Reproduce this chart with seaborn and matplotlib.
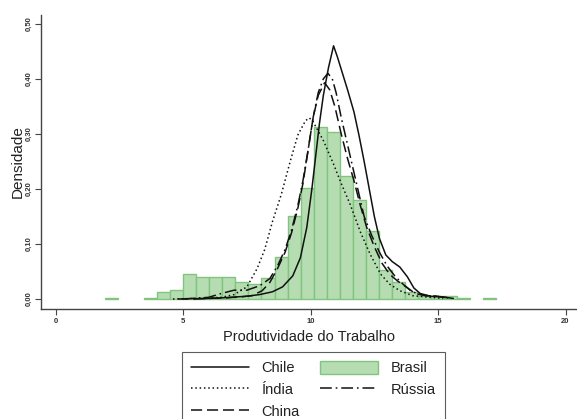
import matplotlib
matplotlib.use("Agg")
import matplotlib.pyplot as plt
import seaborn as sns
import numpy as np

# ---------------- data ----------------
brasil_edges = [1.93, 2.44, 2.95, 3.47, 3.98, 4.49, 5.00, 5.51, 6.03, 6.54, 7.05,
                7.56, 8.07, 8.59, 9.10, 9.61, 10.12, 10.63, 11.14, 11.66, 12.17,
                12.68, 13.19, 13.70, 14.22, 14.73, 15.24, 15.75, 16.26, 16.78, 17.29]
brasil_density = [0.0012, 0.0, 0.0, 0.0025, 0.012, 0.016, 0.045, 0.040, 0.040, 0.040,
                  0.031, 0.028, 0.039, 0.077, 0.151, 0.201, 0.313, 0.303, 0.224, 0.180,
                  0.124, 0.052, 0.030, 0.012, 0.006, 0.006, 0.005, 0.0012, 0.0, 0.0012]

chile_x = [5.4, 6.5, 7.5, 8.0, 8.5, 8.9, 9.3, 9.6, 9.85, 10.05, 10.2, 10.35, 10.5,
           10.7, 10.9, 11.05, 11.25, 11.45, 11.7, 11.9, 12.1, 12.3, 12.5, 12.7,
           12.95, 13.2, 13.5, 13.8, 14.05, 14.3, 14.7, 15.3, 15.6]
chile_y = [0.0, 0.002, 0.005, 0.008, 0.013, 0.022, 0.042, 0.075, 0.13, 0.20, 0.26,
           0.32, 0.37, 0.42, 0.46, 0.44, 0.41, 0.38, 0.34, 0.297, 0.25, 0.20, 0.15,
           0.11, 0.08, 0.068, 0.058, 0.040, 0.020, 0.010, 0.005, 0.003, 0.001]

india_x = [4.6, 5.5, 6.5, 7.0, 7.5, 7.9, 8.2, 8.5, 8.85, 9.2, 9.5, 9.8, 9.95, 10.1,
           10.5, 10.9, 11.2, 11.55, 11.95, 12.35, 12.75, 13.1, 13.5, 14.0, 14.7, 15.2]
india_y = [0.0, 0.001, 0.003, 0.008, 0.022, 0.055, 0.09, 0.14, 0.19, 0.25, 0.298,
           0.324, 0.329, 0.322, 0.288, 0.245, 0.21, 0.172, 0.122, 0.08, 0.045,
           0.027, 0.015, 0.006, 0.003, 0.001]

china_x = [4.8, 6.0, 6.7, 7.3, 7.7, 8.1, 8.4, 8.7, 9.0, 9.25, 9.5, 9.7, 9.9, 10.1,
           10.3, 10.55, 10.75, 10.95, 11.2, 11.45, 11.7, 11.95, 12.2, 12.5, 12.8,
           13.1, 13.4, 13.75, 14.1, 14.5, 15.0, 15.3]
china_y = [0.0, 0.001, 0.002, 0.004, 0.006, 0.015, 0.030, 0.055, 0.085, 0.12, 0.165,
           0.21, 0.27, 0.33, 0.37, 0.393, 0.38, 0.35, 0.30, 0.255, 0.215, 0.17,
           0.13, 0.095, 0.065, 0.045, 0.033, 0.022, 0.010, 0.006, 0.005, 0.002]

russia_x = [5.0, 6.0, 6.5, 7.0, 7.5, 8.0, 8.4, 8.7, 9.0, 9.25, 9.5, 9.7, 9.9, 10.1,
            10.3, 10.5, 10.68, 10.85, 11.0, 11.2, 11.4, 11.6, 11.85, 12.1, 12.4,
            12.7, 13.0, 13.3, 13.6, 13.9, 14.2, 14.6, 15.0, 15.4]
russia_y = [0.0, 0.003, 0.010, 0.016, 0.016, 0.024, 0.037, 0.06, 0.09, 0.125, 0.17,
            0.215, 0.27, 0.33, 0.375, 0.40, 0.41, 0.40, 0.375, 0.33, 0.29, 0.25,
            0.20, 0.15, 0.115, 0.085, 0.06, 0.042, 0.028, 0.016, 0.009, 0.006,
            0.005, 0.002]

x_ticks = [0, 5, 10, 15, 20]
x_ticklabels = ["0", "5", "10", "15", "20"]
y_ticks = [0.0, 0.1, 0.2, 0.3, 0.4, 0.5]
y_ticklabels = ["0,00", "0,10", "0,20", "0,30", "0,40", "0,50"]

# ---------------- styling ----------------
sns.set_style("white")
plt.rcParams["font.family"] = ["Liberation Sans", "DejaVu Sans"]
plt.rcParams["lines.scale_dashes"] = False

W, H = 577, 419
fig = plt.figure(figsize=(W / 100, H / 100), dpi=100)
ax = fig.add_axes([41 / W, 1 - 309 / H, 1 - 41 / W, (309 - 15) / H])

centers = [(a + b) / 2 for a, b in zip(brasil_edges[:-1], brasil_edges[1:])]
sns.histplot(x=centers, weights=brasil_density, bins=brasil_edges, stat="count",
             color="#b6ddb2", edgecolor="#82c47f", linewidth=1.0, alpha=1.0,
             ax=ax, label="Brasil", zorder=1)
for p in ax.patches:
    if p.get_height() == 0:
        p.set_visible(False)

line_kw = dict(color="#111111", linewidth=1.1, ax=ax, sort=False, zorder=3)
sns.lineplot(x=chile_x, y=chile_y, label="Chile", **line_kw)
sns.lineplot(x=india_x, y=india_y, label="Índia", **line_kw)
ax.lines[-1].set_dashes([1.1, 2.0])
sns.lineplot(x=china_x, y=china_y, label="China", **line_kw)
ax.lines[-1].set_dashes([8.0, 3.5])
sns.lineplot(x=russia_x, y=russia_y, label="Rússia", **line_kw)
ax.lines[-1].set_dashes([8.5, 2.8, 1.2, 2.8])

ax.set_xlim(-0.576, 20.45)
ax.set_ylim(-0.0182, 0.516)
ax.set_xticks(x_ticks)
ax.set_xticklabels(x_ticklabels, fontsize=5.5, fontweight="bold", color="#333333")
ax.set_yticks(y_ticks)
ax.set_yticklabels(y_ticklabels, fontsize=5.5, fontweight="bold", color="#333333",
                   rotation=90, va="center")
ax.tick_params(axis="both", direction="out", length=4.0, width=0.8,
               color="#444444", pad=2.2, left=True, bottom=True)

for s in ["top", "right"]:
    ax.spines[s].set_visible(False)
for s in ["left", "bottom"]:
    ax.spines[s].set_color("#444444")
    ax.spines[s].set_linewidth(1.0)

ax.set_xlabel("Produtividade do Trabalho", fontsize=10.5, color="#222222", labelpad=4)
ax.set_ylabel("Densidade", fontsize=11, color="#222222", labelpad=0.5)
ax.grid(False)

handles, labels = ax.get_legend_handles_labels()
order = ["Chile", "Índia", "China", "Brasil", "Rússia"]
hmap = dict(zip(labels, handles))
leg = ax.legend([hmap[k] for k in order], order, loc="upper left",
                bbox_to_anchor=(182 / W, 1 - 352 / H), bbox_transform=fig.transFigure,
                ncol=2, frameon=True, fancybox=False, edgecolor="#333333",
                fontsize=10.5, handlelength=4.0, handleheight=1.0,
                handletextpad=0.85, columnspacing=1.4, labelspacing=0.5,
                borderpad=0.6, borderaxespad=0)
leg.get_frame().set_linewidth(0.8)
for t in leg.get_texts():
    t.set_color("#222222")

fig.savefig("out.png", dpi=100)
